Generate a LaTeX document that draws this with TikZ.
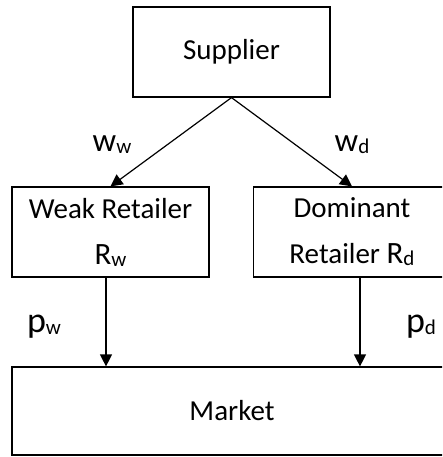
\documentclass[tikz,border=0pt]{standalone}
\usepackage{fontspec}
\setmainfont{Carlito}
\usetikzlibrary{arrows.meta}
\newcommand\sbs[1]{\raisebox{-2pt}{\fontsize{21}{21}\selectfont #1}}
\begin{document}
\begin{tikzpicture}[x=1pt,y=-1pt,
  box/.style={draw, line width=1.2pt, minimum width=197pt, minimum height=90pt, inner sep=0pt, align=center, font=\fontsize{29}{46}\selectfont},
  lblw/.style={font=\fontsize{33}{36}\selectfont, inner sep=0pt},
  lblp/.style={font=\fontsize{36}{40}\selectfont, inner sep=0pt},
  arr/.style={-{Triangle[length=12pt,width=12pt]}, line width=1.2pt}]
\useasboundingbox (0,0) rectangle (442,457);
\clip (0,0) rectangle (442,457);
\node[box] (sup) at (231.5,52) {Supplier};
\node[box] (weak) at (110.5,232) {Weak Retailer\\{\fontsize{31}{46}\selectfont R\sbs{w}}};
\node[box] (dom) at (352,232) {Dominant\\Retailer {\fontsize{31}{46}\selectfont R\sbs{d}}};
\node[box, minimum width=440pt, minimum height=88pt] (market) at (232,411) {Market};
\draw[arr] (sup.south) -- (weak.north);
\draw[arr] (sup.south) -- (dom.north);
\draw[arr] ([xshift=-4.5pt]weak.south) -- ([xshift=-4.5pt]weak.south |- market.north);
\draw[arr] ([xshift=8pt]dom.south) -- ([xshift=8pt]dom.south |- market.north);
\node[lblw] (lww) at (112,145) {w\sbs{w}};
\node[lblw] (lwd) at (352,145) {w\sbs{d}};
\node[lblp] (lpw) at (44,327) {p\sbs{w}};
\node[lblp] (lpd) at (421,327) {p\sbs{d}};
\end{tikzpicture}
\end{document}
